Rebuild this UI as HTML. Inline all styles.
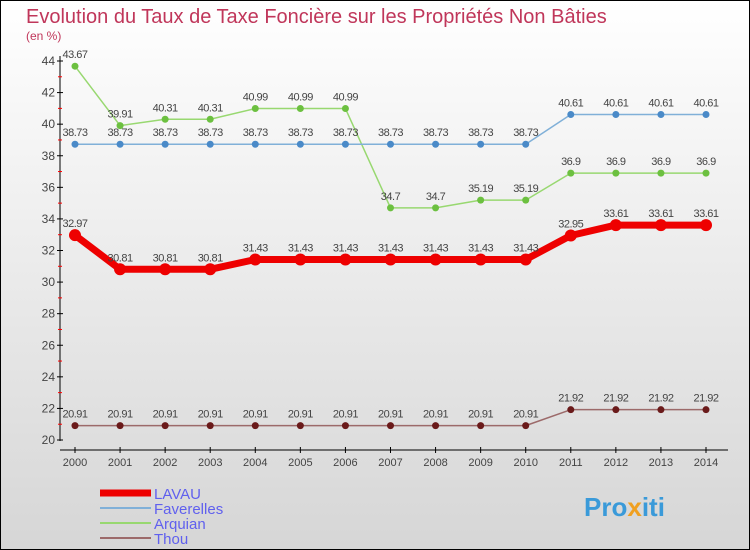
<!DOCTYPE html>
<html><head><meta charset="utf-8"><style>
body{margin:0;width:750px;height:550px;overflow:hidden;font-family:"Liberation Sans",sans-serif}
svg{display:block}
</style></head><body>
<svg id="chart" width="750" height="550" xmlns="http://www.w3.org/2000/svg">
<defs><linearGradient id="bg" x1="0" y1="0" x2="0" y2="1"><stop offset="0" stop-color="#ffffff"/><stop offset="1" stop-color="#d6d6d6"/></linearGradient></defs>
<rect x="0.5" y="0.5" width="749" height="549" fill="url(#bg)" stroke="#000"/>
<text x="26" y="23" font-size="20" fill="#c0365a">Evolution du Taux de Taxe Foncière sur les Propriétés Non Bâties</text>
<text x="26" y="40" font-size="12" fill="#c0365a">(en %)</text>
<g id="axes"></g><g id="series"></g><g id="legend"></g>
<text x="584" y="516" font-size="26" font-weight="bold" fill="#3a9ad9">Pro<tspan fill="#f0a020">x</tspan>iti</text>
</svg>
<script>
const years=[2000,2001,2002,2003,2004,2005,2006,2007,2008,2009,2010,2011,2012,2013,2014];
const yTicks=[20,22,24,26,28,30,32,34,36,38,40,42,44];
const lavau=[32.97,30.81,30.81,30.81,31.43,31.43,31.43,31.43,31.43,31.43,31.43,32.95,33.61,33.61,33.61];
const faverelles=[38.73,38.73,38.73,38.73,38.73,38.73,38.73,38.73,38.73,38.73,38.73,40.61,40.61,40.61,40.61];
const arquian=[43.67,39.91,40.31,40.31,40.99,40.99,40.99,34.7,34.7,35.19,35.19,36.9,36.9,36.9,36.9];
const thou=[20.91,20.91,20.91,20.91,20.91,20.91,20.91,20.91,20.91,20.91,20.91,21.92,21.92,21.92,21.92];
const NS="http://www.w3.org/2000/svg";
const xS=i=>75+i*(706-75)/14;
const yS=v=>440-(v-20)*(440-61)/24;
function mk(t,a,p){const e=document.createElementNS(NS,t);for(const k in a)e.setAttribute(k,a[k]);p.appendChild(e);return e;}
const ax=document.getElementById('axes');
let yl=mk('line',{x1:60,y1:56,x2:60,y2:441,stroke:'#000'},ax);


let xl=mk('line',{x1:60,y1:450,x2:728,y2:450,stroke:'#000'},ax);


yTicks.forEach(v=>{
 mk('line',{x1:57,x2:63,y1:yS(v),y2:yS(v),stroke:'#000'},ax);
 if(v<44) mk('line',{x1:58,x2:62,y1:yS(v+1),y2:yS(v+1),stroke:'#f00'},ax);
 const t=mk('text',{x:55,y:yS(v)+4,'text-anchor':'end','font-size':12,fill:'#444'},ax);t.textContent=v;
 
 
});
years.forEach((y,i)=>{
 mk('line',{x1:xS(i),x2:xS(i),y1:447,y2:453,stroke:'#000'},ax);
 const t=mk('text',{x:xS(i),y:466,'text-anchor':'middle','font-size':11,fill:'#444'},ax);t.textContent=y;
 
 
});
const sg=document.getElementById('series');
function draw(data,color,dot,w,r,name){
 const g=mk('g',{},sg);
 
 
 const pl=mk('polyline',{points:data.map((v,i)=>xS(i)+','+yS(v)).join(' '),fill:'none',stroke:color,'stroke-width':w,'stroke-linejoin':'round'},g);
 
 
 data.forEach((v,i)=>{
  const c=mk('circle',{cx:xS(i),cy:yS(v),r:r,fill:dot},g);
  
  
  const t=mk('text',{x:xS(i),y:yS(v)-8,'text-anchor':'middle','font-size':11,fill:'#444','letter-spacing':'-0.5'},g);t.textContent=v;
  
  
 });
}
draw(thou,'#9c6a6a','#6a1a1a',1.5,3.5,'thou');
draw(arquian,'#98d870','#6cc040',1.5,3.5,'arquian');
draw(faverelles,'#80b0d8','#4a8ac8',1.5,3.5,'faverelles');
draw(lavau,'#ee0000','#ee0000',7,6,'lavau');
const lg=document.getElementById('legend');
[['LAVAU','#ee0000',7],['Faverelles','#80b0d8',2],['Arquian','#98d870',2],['Thou','#9c6a6a',2]].forEach((e,i)=>{
 const y=493+i*15;
 const g=mk('g',{},lg);
 
 
 mk('line',{x1:100,x2:151,y1:y,y2:y,stroke:e[1],'stroke-width':e[2]},g);
 const t=mk('text',{x:154,y:y+6,'font-size':15,fill:'#6060ee'},g);t.textContent=e[0];
});
</script>
</body></html>
